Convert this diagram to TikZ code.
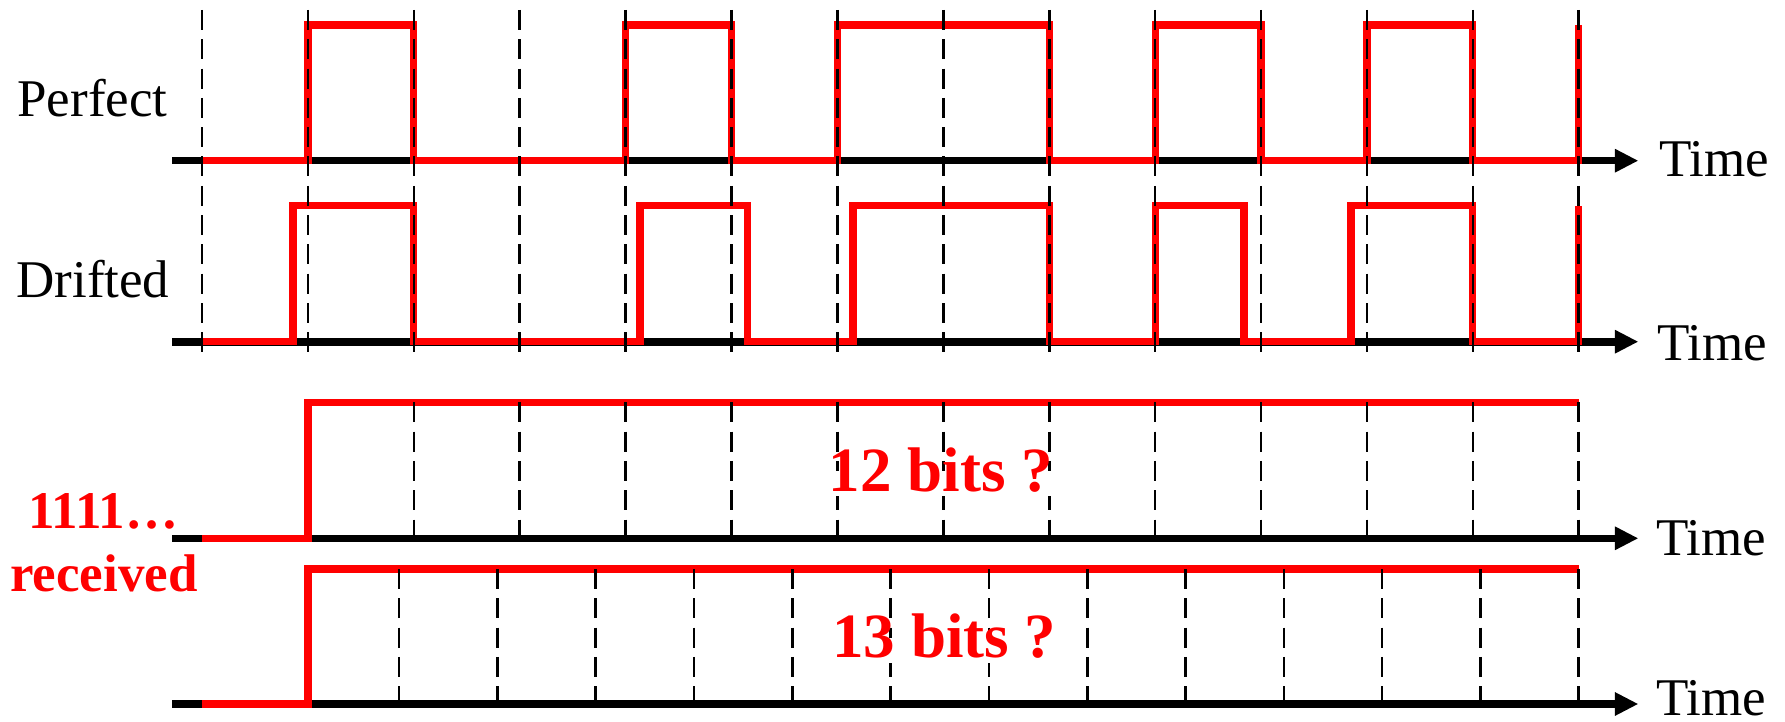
\documentclass[tikz,border=0pt]{standalone}
\usepackage{fontspec}
\setmainfont{Liberation Serif}
\usetikzlibrary{arrows.meta}
\definecolor{sigred}{RGB}{255,0,0}
\begin{document}
\begin{tikzpicture}[x=0.5pt,y=-0.5pt,
  axis/.style={line width=3.8pt, -{Triangle[length=11.75pt,width=11pt]}},
  sig/.style={line width=3.6pt, draw=sigred, line join=miter, line cap=butt},
  gridline/.style={line width=1.3pt, dash pattern=on 10pt off 4.65pt},
  lbl/.style={font=\fontsize{26.5}{30}\selectfont, inner sep=0pt},
  redlbl/.style={font=\fontsize{26.5}{30}\selectfont\bfseries, text=sigred, inner sep=0pt},
  bits/.style={font=\fontsize{31.5}{36}\selectfont\bfseries, text=sigred, fill=white,
    inner xsep=3pt, inner ysep=0pt, text height=1.0em, text depth=0.27em}]
\useasboundingbox (0,0) rectangle (1785,722);

% axis coordinates
\coordinate (a1s) at (172,160.7);  \coordinate (a1e) at (1638.4,160.7);
\coordinate (a2s) at (172,341.7);  \coordinate (a2e) at (1638.4,341.7);
\coordinate (a3s) at (172,538.3);  \coordinate (a3e) at (1638.4,538.3);
\coordinate (a4s) at (172,704);    \coordinate (a4e) at (1638.4,704);

% axes
\draw[axis] (a1s) -- (a1e);
\draw[axis] (a2s) -- (a2e);
\draw[axis] (a3s) -- (a3e);
\draw[axis] (a4s) -- (a4e);

% perfect signal
\draw[sig] (202,160.7) -| (307.9,25) -| (413.8,160.7) -| (625.6,25) -| (731.5,160.7)
  -| (837.4,25) -| (1049.2,160.7) -| (1155.1,25) -| (1261,160.7) -| (1366.9,25)
  -| (1472.8,160.7) -| (1578.7,25);

% drifted signal
\draw[sig] (202,341.7) -| (293,205.7) -| (413.8,341.7) -| (640,205.7) -| (747.5,341.7)
  -| (853,205.7) -| (1049.2,341.7) -| (1155.1,205.7) -| (1244,341.7) -| (1351,205.7)
  -| (1472.8,341.7) -| (1578.7,205.7);

% received 1111...
\draw[sig] (202,538.3) -| (307.9,402.3) -- (1578.7,402.3);
\draw[sig] (202,704) -| (307.9,569) -- (1578.7,569);

% dashed grid lines
\foreach \i in {0,...,13}
  \draw[gridline] ({202+105.9*\i},10) -- ({202+105.9*\i},352.7);
\foreach \i in {2,...,13}
  \draw[gridline] ({202+105.9*\i},402.3) -- ({202+105.9*\i},538.3);
\foreach \i in {0,...,12}
  \draw[gridline] ({399.1+98.3*\i},569) -- ({399.1+98.3*\i},704);

% labels
\node[lbl, anchor=base west] (perfect) at (17,116.7) {Perfect};
\node[lbl, anchor=base west] (drifted) at (16,297.7) {Drifted};
\node[lbl, anchor=base west] (time1) at (1659,176.7) {Time};
\node[lbl, anchor=base west] (time2) at (1657,360) {Time};
\node[lbl, anchor=base west] (time3) at (1656,555) {Time};
\node[lbl, anchor=base west] (time4) at (1656,715) {Time};

\node[redlbl, anchor=base] (ones) at (103.3,528.3) {1111…};
\node[redlbl, anchor=base] (recv) at (104,591.7) {received};

\node[bits, anchor=base] (b12) at (941,491) {12 bits ?};
\node[bits, anchor=base] (b13) at (944.4,657.7) {13 bits ?};
\end{tikzpicture}
\end{document}
